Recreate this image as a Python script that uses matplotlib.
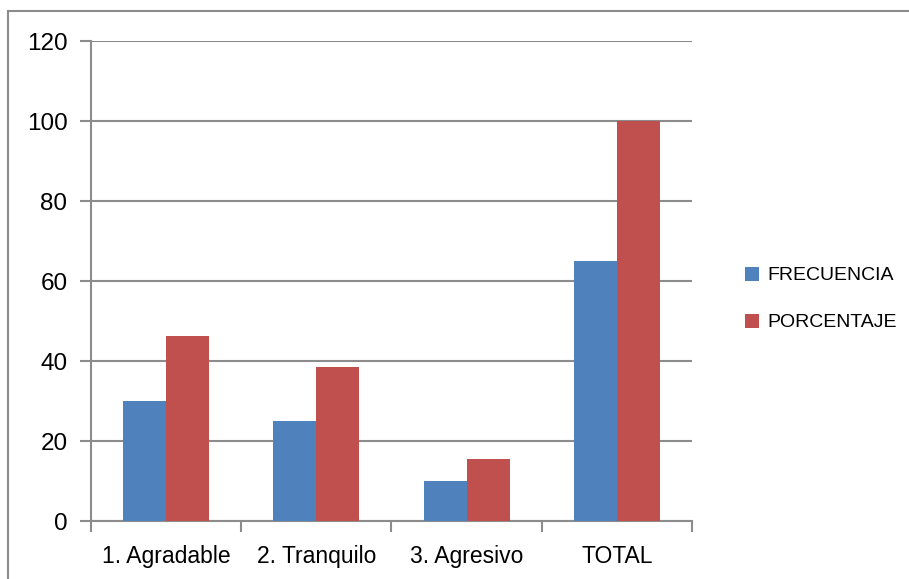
import matplotlib.pyplot as plt
import matplotlib.patches as mpatches
import numpy as np

categories = ['1. Agradable', '2. Tranquilo', '3. Agresivo', 'TOTAL']
frecuencia = [30, 25, 10, 65]
porcentaje = [46.15, 38.46, 15.38, 100]
yticks = [0, 20, 40, 60, 80, 100, 120]

W, H = 909, 579
fig = plt.figure(figsize=(W / 100, H / 100), dpi=100)
plt.rcParams['font.family'] = ['Liberation Sans', 'DejaVu Sans']

# chart area border
fig.patches.append(mpatches.Rectangle((8 / W, -0.1), 1.2, 1 - 11 / H + 0.1,
                                      transform=fig.transFigure, fill=False,
                                      edgecolor='#8c8c8c', linewidth=1.5))

ax = fig.add_axes([91 / W, 1 - 521 / H, (692 - 91) / W, (521 - 41) / H])
x = np.arange(len(categories))
width = 1 / 3.5
ax.bar(x - width / 2, frecuencia, width, color='#4F81BD', label='FRECUENCIA', zorder=3)
ax.bar(x + width / 2, porcentaje, width, color='#C0504D', label='PORCENTAJE', zorder=3)

ax.set_xlim(-0.5, len(categories) - 0.5)
ax.set_ylim(0, 120)
ax.set_yticks(yticks)
ax.yaxis.grid(True, color='#8c8c8c', linewidth=1.5, zorder=0)
ax.set_xticks(x)
ax.set_xticklabels(categories, fontsize=16.5)
ax.tick_params(axis='x', length=0, pad=17)
ax.set_xticks(np.arange(len(categories) + 1) - 0.5, minor=True)
ax.tick_params(axis='x', which='minor', length=8, width=1.5, color='#8c8c8c')
ax.tick_params(axis='y', length=8, width=1.5, color='#8c8c8c', labelsize=17.5, pad=9)
for s in ['top', 'right']:
    ax.spines[s].set_visible(False)
for s in ['left', 'bottom']:
    ax.spines[s].set_color('#8c8c8c')
    ax.spines[s].set_linewidth(1.5)

ax.legend(loc='center left', bbox_to_anchor=(727 / W, 1 - 299 / H),
          bbox_transform=fig.transFigure, frameon=False, fontsize=14,
          handlelength=0.75, handleheight=0.75, handletextpad=0.45,
          labelspacing=1.5)

plt.savefig('out.png', dpi=100)
